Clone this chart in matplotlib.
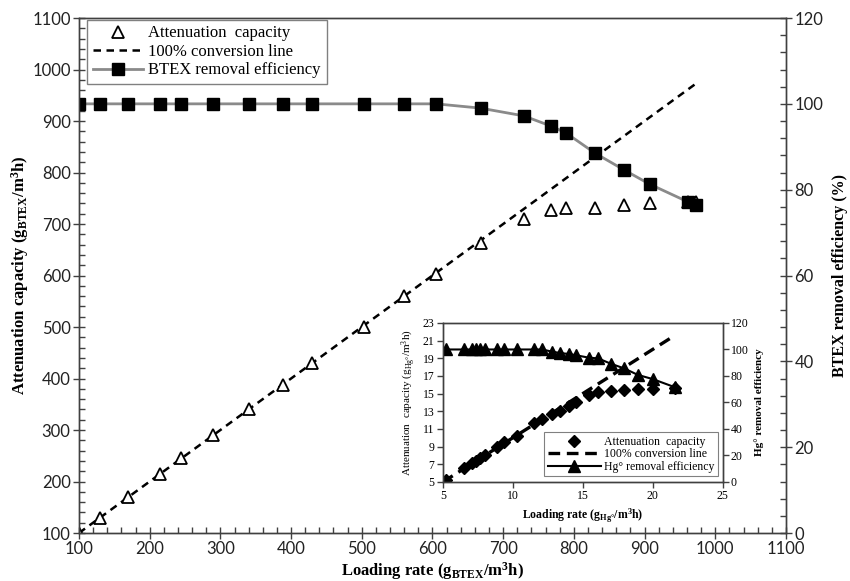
import matplotlib
matplotlib.use('Agg')
import matplotlib.pyplot as plt
from matplotlib.ticker import MultipleLocator

plt.rcParams['mathtext.default'] = 'regular'
SERIF = 'Liberation Serif'
TICKF = 'Lato'

# ---- main chart data (BTEX) ----
load_btex = [100, 130, 170, 215, 245, 290, 340, 388, 430, 503, 560, 605, 668,
             729, 768, 789, 830, 871, 907, 962, 973]
atten_btex = [100, 130, 170, 215, 245, 290, 340, 388, 430, 500, 560, 603, 663,
              710, 728, 732, 732, 737, 740, 742, 743]
eff_btex = [100, 100, 100, 100, 100, 100, 100, 100, 100, 100, 100, 100, 99.0,
            97.2, 94.8, 93.2, 88.5, 84.6, 81.3, 77.1, 76.4]
conv_btex = [100, 975]

# ---- inset data (Hg) ----
load_hg = [5.2, 6.5, 7.05, 7.4, 7.65, 8.05, 8.9, 9.35, 10.3, 11.55, 12.1, 12.8,
           13.35, 14.0, 14.55, 15.45, 16.1, 17.05, 17.95, 18.95, 20.0, 21.6]
atten_hg = [5.25, 6.55, 7.15, 7.4, 7.7, 8.1, 9.0, 9.5, 10.25, 11.65, 12.1, 12.65,
            13.05, 13.55, 14.0, 14.9, 15.15, 15.35, 15.4, 15.5, 15.5, 15.65]
eff_hg = [100, 100, 100, 100, 100, 100, 100, 100, 100, 100, 100, 98.4,
          97.4, 96.6, 95.6, 93.8, 93.3, 89.1, 85.8, 80.8, 77.7, 71.5]
conv_hg = [5, 21.6]
inset_yticks = [5, 7, 9, 11, 13, 15, 17, 19, 21, 23]

fig = plt.figure(figsize=(8.5, 5.81), dpi=100)
fig.patch.set_facecolor('white')

# ---------- main axes ----------
ax = fig.add_axes([0.0929, 0.0826, 0.8318, 0.8864])
ax2 = ax.twinx()
ax.set_xlim(100, 1100)
ax.set_ylim(100, 1100)
ax2.set_ylim(0, 120)

l_conv, = ax.plot(conv_btex, conv_btex, color='black', ls='--', lw=1.8, dashes=(3, 2.2))
l_att, = ax.plot(load_btex, atten_btex, ls='none', marker='^', mfc='white',
                 mec='black', ms=8.5, mew=1.3)
l_eff, = ax2.plot(load_btex, eff_btex, color='#8a8a8a', lw=2, marker='s',
                  mfc='black', mec='black', ms=8)

for a in (ax, ax2):
    for s in a.spines.values():
        s.set_color('#404040')
        s.set_linewidth(1.0)

ax.xaxis.set_major_locator(MultipleLocator(100))
ax.xaxis.set_minor_locator(MultipleLocator(20))
ax.yaxis.set_major_locator(MultipleLocator(100))
ax.yaxis.set_minor_locator(MultipleLocator(20))
ax2.yaxis.set_major_locator(MultipleLocator(20))
ax2.yaxis.set_minor_locator(MultipleLocator(4))
for a in (ax, ax2):
    a.tick_params(which='major', direction='inout', length=8, width=1, color='#404040',
                  labelsize=12, pad=2)
    a.tick_params(which='minor', direction='in', length=4, width=1, color='#404040')
ax.tick_params(axis='x', which='both', top=False)
ax.tick_params(axis='y', which='both', right=False)
for lab in ax.get_xticklabels() + ax.get_yticklabels() + ax2.get_yticklabels():
    lab.set_fontfamily(TICKF)
    lab.set_color('#222222')

ax.set_xlabel('Loading rate (g$_{BTEX}$/m$^{3}$h)', fontfamily=SERIF,
              fontweight='bold', fontsize=12, labelpad=2)
ax.set_ylabel('Attenuation capacity (g$_{BTEX}$/m$^{3}$h)', fontfamily=SERIF,
              fontweight='bold', fontsize=12, labelpad=1)
ax2.set_ylabel('BTEX removal efficiency (%)', fontfamily=SERIF,
               fontweight='bold', fontsize=11.5, labelpad=6)

leg = ax2.legend([l_att, l_conv, l_eff],
                 ['Attenuation  capacity', '100% conversion line', 'BTEX removal efficiency'],
                 loc='upper left', bbox_to_anchor=(0.012, 0.997), borderaxespad=0,
                 prop={'family': SERIF, 'size': 12}, fancybox=False, framealpha=1,
                 edgecolor='#808080', handlelength=3.0, handletextpad=0.3,
                 labelspacing=0.15, borderpad=0.35)
leg.get_frame().set_linewidth(1.0)

# ---------- inset ----------
ins = fig.add_axes([0.521, 0.1704, 0.329, 0.2737])
ins.set_zorder(10)
ins.set_facecolor('white')
ins2 = ins.twinx()
ins2.set_zorder(11)
ins2.patch.set_visible(False)
ins.set_xlim(5, 25)
ins.set_ylim(5, 23)
ins2.set_ylim(0, 120)

i_conv, = ins.plot(conv_hg, conv_hg, color='black', ls='--', lw=2.4, dashes=(3.5, 2))
i_att, = ins.plot(load_hg, atten_hg, ls='none', marker='D', color='black', ms=6)
i_eff, = ins2.plot(load_hg, eff_hg, color='black', lw=1.5, marker='^', ms=8)

ins.xaxis.set_major_locator(MultipleLocator(5))
ins.set_yticks(inset_yticks)
ins2.yaxis.set_major_locator(MultipleLocator(20))
for a in (ins, ins2):
    for s in a.spines.values():
        s.set_color('#404040')
        s.set_linewidth(1.0)
    a.tick_params(which='major', direction='out', length=4, width=1, color='#404040',
                  labelsize=8.5, pad=2)
ins.tick_params(axis='x', top=False)
ins.tick_params(axis='y', right=False)
for lab in ins.get_xticklabels() + ins.get_yticklabels() + ins2.get_yticklabels():
    lab.set_fontfamily(SERIF)

ins.set_xlabel('Loading rate (g$_{Hg°}$/m$^{3}$h)', fontfamily=SERIF,
               fontweight='bold', fontsize=8.5, labelpad=3)
ins.set_ylabel('Attenuation  capacity (g$_{Hg°}$/m$^{3}$h)', fontfamily=SERIF,
               fontsize=8, labelpad=3)
ins2.set_ylabel('Hg° removal efficiency', fontfamily=SERIF, fontweight='bold',
                fontsize=8, labelpad=4)

ileg = ins2.legend([i_att, i_conv, i_eff],
                   ['Attenuation  capacity', '100% conversion line', 'Hg° removal efficiency'],
                   loc='lower right', bbox_to_anchor=(0.985, 0.035), borderaxespad=0,
                   prop={'family': SERIF, 'size': 8.5}, fancybox=False, framealpha=1,
                   edgecolor='#808080', handlelength=4.5, handletextpad=0.3,
                   labelspacing=0.05, borderpad=0.3)
ileg.get_frame().set_linewidth(0.8)

fig.savefig('out.png', dpi=100, facecolor='white')
